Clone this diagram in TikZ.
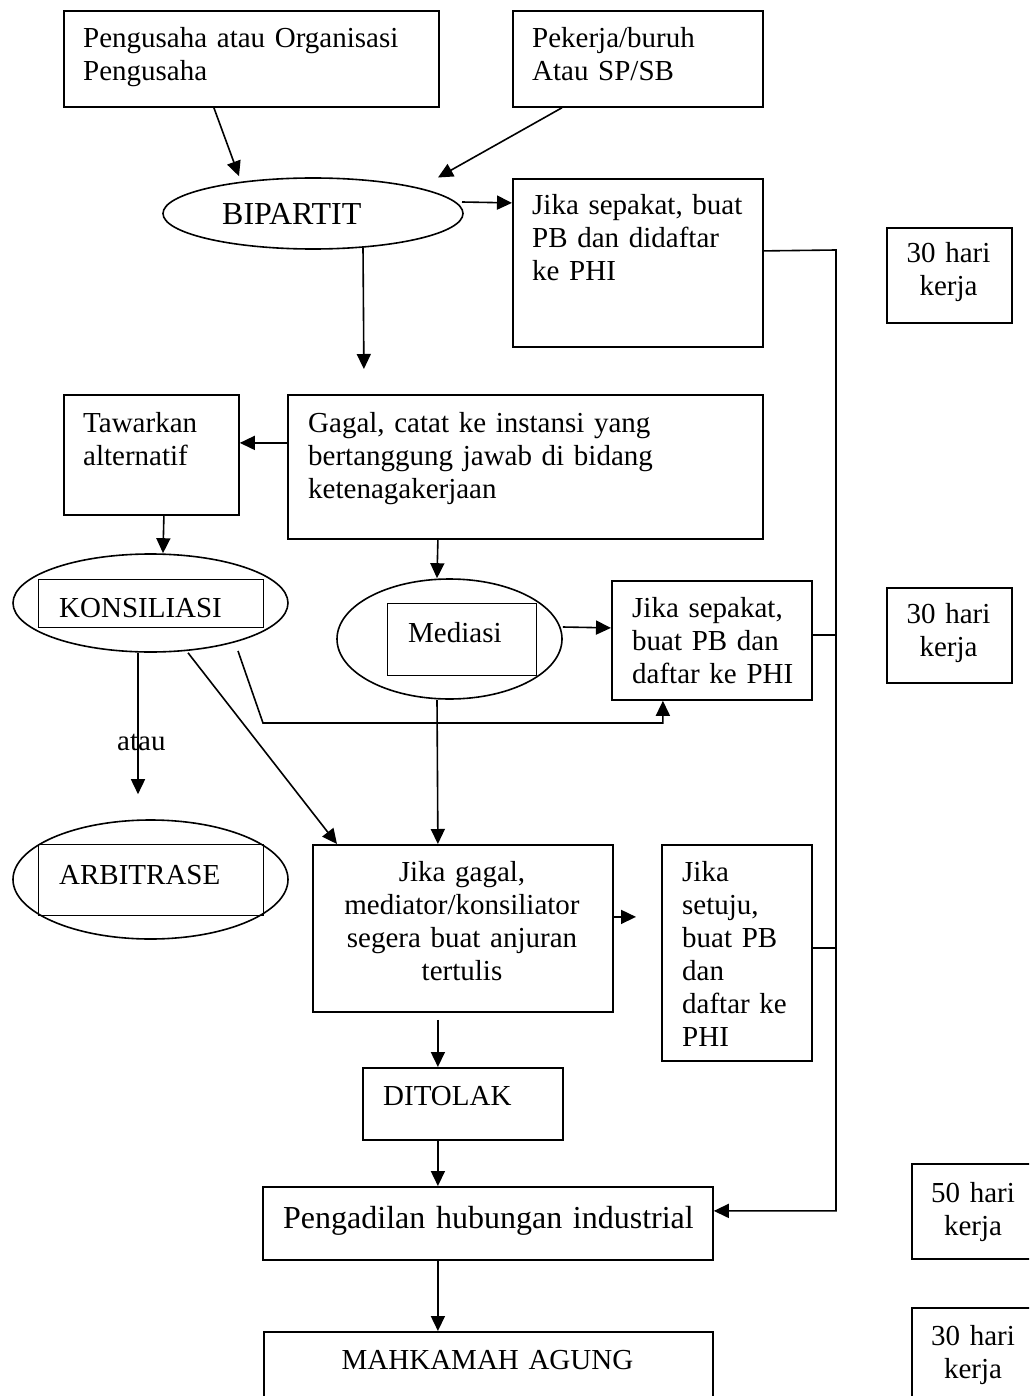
\documentclass[tikz,border=0pt]{standalone}
\usepackage{fontspec}
\setmainfont{Liberation Serif}
\usetikzlibrary{arrows.meta,shapes.geometric}

\tikzset{
  box/.style={draw, line width=1.8pt, inner sep=0pt, anchor=north west},
  inbox/.style={draw, line width=1.4pt, inner sep=0pt, anchor=north west},
  oval/.style={draw, ellipse, line width=1.6pt, inner sep=0pt},
  txt/.style={anchor=base west, inner sep=0pt, align=left, text width=#1},
  ctxt/.style={anchor=base, inner sep=0pt, align=center, text width=#1},
  big/.style={font=\fontsize{32}{36}\selectfont},
  arr/.style={line width=1.6pt, -{Triangle[length=15pt,width=14pt]}},
  ln/.style={line width=1.6pt}
}

\begin{document}
\begin{tikzpicture}[x=1pt, y=-1pt, font=\fontsize{29}{33}\selectfont]
  \useasboundingbox (0,0) rectangle (1029,1396);
  \fill[white] (0,0) rectangle (1029,1396);
  \clip (0,0) rectangle (1029,1396);

  \node[box, minimum width=375, minimum height=96] (peng) at (63,10) {};
  \node[txt=350pt] (pengT) at (83,48) {Pengusaha atau Organisasi\\Pengusaha};
  \node[box, minimum width=250, minimum height=96] (pek) at (512,10) {};
  \node[txt=240pt] (pekT) at (532,48) {Pekerja/buruh\\Atau SP/SB};

  \node[oval, minimum width=300, minimum height=71] (bip) at (313,213.5) {};
  \node[txt=200pt, big] (bipT) at (222,225) {BIPARTIT};
  \node[box, minimum width=250, minimum height=168] (jks1) at (512,178) {};
  \node[txt=240pt] (jks1T) at (532,215) {Jika sepakat, buat\\PB dan didaftar\\ke PHI};
  \node[box, minimum width=125, minimum height=95] (hari1) at (886,227) {};
  \node[ctxt=120pt] (hari1T) at (948.5,263) {30 hari\\kerja};

  \node[box, minimum width=175, minimum height=120] (taw) at (63,394) {};
  \node[txt=170pt] (tawT) at (83,432) {Tawarkan\\alternatif};
  \node[box, minimum width=475, minimum height=144] (gagal) at (287,394) {};
  \node[txt=450pt] (gagalT) at (308,432) {Gagal, catat ke instansi yang\\bertanggung jawab di bidang\\ketenagakerjaan};

  \node[oval, minimum width=275, minimum height=98] (kon) at (150.5,603) {};
  \node[inbox, minimum width=225, minimum height=48] (konR) at (38,579) {};
  \node[txt=200pt] (konT) at (59,617) {KONSILIASI};
  \node[oval, minimum width=225, minimum height=120] (med) at (449.5,639) {};
  \node[inbox, minimum width=149, minimum height=72] (medR) at (387,603) {};
  \node[txt=125pt] (medT) at (408,642) {Mediasi};
  \node[box, minimum width=200, minimum height=119] (jks2) at (611,580) {};
  \node[txt=190pt] (jks2T) at (632,617) {Jika sepakat,\\buat PB dan\\daftar ke PHI};
  \node[box, minimum width=125, minimum height=95] (hari2) at (886,587) {};
  \node[ctxt=120pt] (hari2T) at (948.5,623) {30 hari\\kerja};

  \node[txt=60pt] (atau) at (117,750) {atau};

  \node[oval, minimum width=275, minimum height=119] (arb) at (150.5,879.5) {};
  \node[inbox, minimum width=225, minimum height=71] (arbR) at (38,844) {};
  \node[txt=200pt] (arbT) at (59,884) {ARBITRASE};
  \node[box, minimum width=300, minimum height=167] (jgg) at (312,844) {};
  \node[ctxt=295pt] (jggT) at (462,881) {Jika gagal,\\mediator/konsiliator\\segera buat anjuran\\tertulis};
  \node[box, minimum width=150, minimum height=216] (jst) at (661,844) {};
  \node[txt=140pt] (jstT) at (682,881) {Jika\\setuju,\\buat PB\\dan\\daftar ke\\PHI};

  \node[box, minimum width=200, minimum height=72] (dit) at (362,1067) {};
  \node[txt=175pt] (ditT) at (383,1105) {DITOLAK};
  \node[box, minimum width=450, minimum height=73] (phi) at (262,1186) {};
  \node[txt=425pt, big] (phiT) at (283,1228) {Pengadilan hubungan industrial};
  \node[box, minimum width=449, minimum height=120] (mah) at (263,1331) {};
  \node[ctxt=400pt] (mahT) at (487.5,1369) {MAHKAMAH AGUNG};
  \node[box, minimum width=125, minimum height=95] (hari3) at (911,1163) {};
  \node[ctxt=120pt] (hari3T) at (973,1202) {50 hari\\kerja};
  \node[box, minimum width=125, minimum height=120] (hari4) at (911,1307) {};
  \node[ctxt=120pt] (hari4T) at (973,1345) {30 hari\\kerja};

  \coordinate (bus) at (836,250);
  \coordinate (phiIn) at ([shift={(0,-12.5)}]phi.east);
  \coordinate (j2) at ([shift={(0,-5.5)}]jks2.east);
  \coordinate (js) at ([shift={(0,-5)}]jst.east);

  \draw[arr] ([shift={(-37.5,0)}]peng.south) -- ([shift={(-74,-1)}]bip.north);
  \draw[arr] ([shift={(-76,0)}]pek.south) -- ([shift={(125,-36)}]bip.center);
  \draw[arr] ([shift={(149,-11.5)}]bip.center) -- ([shift={(0,-60)}]jks1.west);
  \draw[arr] ([shift={(50,34)}]bip.center) -- ([shift={(-161.5,-25)}]gagal.north);
  \draw[arr] ([shift={(0,-12)}]jks1.east) -- (bus) -- (bus |- phiIn) -- (phiIn);
  \draw[ln] (j2) -- (j2 -| bus);
  \draw[ln] (js) -- (js -| bus);
  \draw[arr] ([shift={(0,-24)}]gagal.west) -- ([shift={(0,-12)}]taw.east);
  \draw[arr] ([shift={(12.5,0)}]taw.south) -- ([shift={(12.5,0)}]kon.north);
  \draw[arr] ([shift={(-87.5,0)}]gagal.south) -- ([shift={(-12.5,0)}]med.north);
  \draw[arr] ([shift={(0,-12)}]med.east) -- ([shift={(0,-12.5)}]jks2.west);
  \draw[arr] ([shift={(-12.5,0)}]med.south) -- ([shift={(-25,0)}]jgg.north);
  \draw[arr] ([shift={(87.5,48)}]kon.center) -- ([shift={(112.5,120)}]kon.center) -| ([shift={(-49,0)}]jks2.south);
  \draw[arr] ([shift={(37.5,0)}]kon.south) -- ([shift={(25,0)}]jgg.north west);
  \draw[arr] ([shift={(-12.5,0)}]kon.south) -- ([shift={(-12.5,-25)}]arb.north);
  \draw[arr] ([shift={(0,-11.5)}]jgg.east) -- ([shift={(-25,-36)}]jst.west);
  \draw[arr] ([shift={(-25,7)}]jgg.south) -- ([shift={(-25,0)}]dit.north);
  \draw[arr] ([shift={(-25,0)}]dit.south) -- ([shift={(-50,0)}]phi.north);
  \draw[arr] ([shift={(-50,0)}]phi.south) -- ([shift={(-50.5,0)}]mah.north);
\end{tikzpicture}
\end{document}
